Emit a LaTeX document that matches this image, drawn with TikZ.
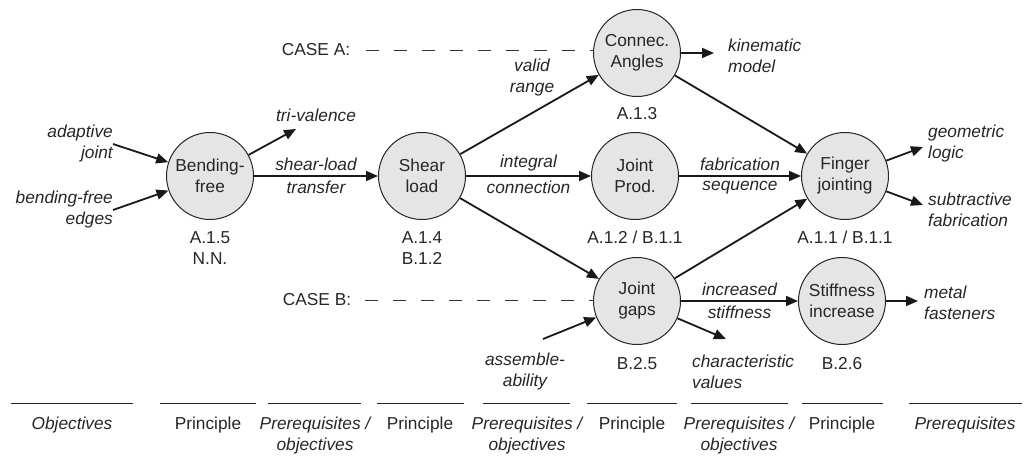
\documentclass[tikz,border=0pt]{standalone}
\usepackage{fontspec}
\setmainfont{Liberation Sans}
\usetikzlibrary{arrows.meta,positioning}

\newcommand{\labelsize}{\fontsize{17.3}{21}\selectfont}

\tikzset{
  principle/.style={circle, draw=black!85, line width=1pt, fill=black!10,
    minimum size=87pt, inner sep=0pt, align=center},
  note/.style={font=\labelsize\itshape, align=center, inner sep=0pt},
  tag/.style={align=center, inner sep=0pt},
  flow/.style={-{Triangle[length=12pt,width=10pt]}, line width=1.8pt, draw=black!90},
  caseline/.style={dash pattern=on 13pt off 15pt, line width=0.8pt, draw=black!80},
  rule/.style={line width=0.9pt, draw=black!85}
}

\begin{document}
\begin{tikzpicture}[x=1pt, y=-1pt, font=\labelsize, text=black!85]
    \useasboundingbox (0,0) rectangle (1027,455);

    % principles
    \node[principle] (bend) at (210,176) {Bending-\\free};
    \node[principle] (shear) at (422,176) {Shear\\load};
    \node[principle] (connec) at (637,53) {Connec.\\Angles};
    \node[principle] (prod) at (635,176) {Joint\\Prod.};
    \node[principle] (gaps) at (637,301) {Joint\\gaps};
    \node[principle] (finger) at (845,176) {Finger\\jointing};
    \node[principle] (stiff) at (842,301) {Stiffness\\increase};

    % section numbers
    \node[tag, below=11pt of bend] (tbend) {A.1.5\\N.N.};
    \node[tag, below=11pt of shear] (tshear) {A.1.4\\B.1.2};
    \node[tag, below=10pt of connec] (tconnec) {A.1.3};
    \node[tag, below=11pt of prod] (tprod) {A.1.2 / B.1.1};
    \node[tag, below=11pt of finger] (tfinger) {A.1.1 / B.1.1};
    \node[tag, below=12pt of gaps] (tgaps) {B.2.5};
    \node[tag, below=12pt of stiff] (tstiff) {B.2.6};

    % cases
    \node[tag] (casea) at (316,50) {CASE A:};
    \node[tag] (caseb) at (317,300) {CASE B:};
    \draw[caseline] (casea.east) ++(16,0) -- (connec.west |- casea.east);
    \draw[caseline] (caseb.east) ++(14,0) -- (gaps.west |- caseb.east);

    % objectives and prerequisites
    \node[note, align=right, anchor=east] (adapt) at (113,144) {adaptive\\joint};
    \node[note, align=right, anchor=east] (edges) at (113,210) {bending-free\\edges};
    \node[note] (tri) at (316,115) {tri-valence};
    \node[note, align=left, anchor=west] (kin) at (728,56) {kinematic\\model};
    \node[note, align=left, anchor=west] (geo) at (928,144) {geometric\\logic};
    \node[note, align=left, anchor=west] (sub) at (928,210) {subtractive\\fabrication};
    \node[note, align=left, anchor=west] (metal) at (924,303) {metal\\fasteners};
    \node[note, align=left, anchor=west] (charv) at (692,372) {characteristic\\values};
    \node[note] (assem) at (525,372) {assemble-\\ability};
    \node[note] (valid) at (532,78) {valid\\range};

    \coordinate (trie) at (296,129);
    \coordinate (kine) at (714,53);
    \coordinate (geoe) at (923,147);
    \coordinate (sube) at (923,205);
    \coordinate (metale) at (918,301);
    \coordinate (charve) at (726,339);
    \coordinate (assems) at (543,339);

    % connectors
    \draw[flow] (adapt.east) -- (bend);
    \draw[flow] (edges.east) -- (bend);
    \draw[flow] (bend) -- (trie);
    \draw[flow] (bend) -- node[note, above=4pt] (lshear) {shear-load}
        node[note, below=4pt] (lshear2) {transfer} (shear);
    \draw[flow] (shear) -- (connec);
    \draw[flow] (shear) -- node[note, above=4pt] (lint) {integral}
        node[note, below=4pt] (lint2) {connection} (prod);
    \draw[flow] (shear) -- (gaps);
    \draw[flow] (connec) -- (kine);
    \draw[flow] (connec) -- (finger);
    \draw[flow] (prod) -- node[note, above=4pt] (lfab) {fabrication}
        node[note, below=4pt] (lfab2) {sequence} (finger);
    \draw[flow] (gaps) -- (finger);
    \draw[flow] (finger) -- (geoe);
    \draw[flow] (finger) -- (sube);
    \draw[flow] (assems) -- (gaps);
    \draw[flow] (gaps) -- (charve);
    \draw[flow] (gaps) -- node[note, above=4pt] (lstiff) {increased}
        node[note, below=4pt] (lstiff2) {stiffness} (stiff);
    \draw[flow] (stiff) -- (metale);

    % column headings
    \draw[rule] (11,403) -- (133,403);
    \draw[rule] (160,403) -- (256,403);
    \draw[rule] (268,403) -- (361,403);
    \draw[rule] (377,403) -- (464,403);
    \draw[rule] (483,403) -- (570,403);
    \draw[rule] (587,403) -- (677,403);
    \draw[rule] (691,403) -- (788,403);
    \draw[rule] (802,403) -- (883,403);
    \draw[rule] (909,403) -- (1022,403);
    \node[note, anchor=north] (col1) at (72,417) {Objectives};
    \node[tag, anchor=north] (col2) at (208,417) {Principle};
    \node[note, anchor=north] (col3) at (315,417) {Prerequisites /\\objectives};
    \node[tag, anchor=north] (col4) at (420,417) {Principle};
    \node[note, anchor=north] (col5) at (527,417) {Prerequisites /\\objectives};
    \node[tag, anchor=north] (col6) at (632,417) {Principle};
    \node[note, anchor=north] (col7) at (739,417) {Prerequisites /\\objectives};
    \node[tag, anchor=north] (col8) at (842,417) {Principle};
    \node[note, anchor=north] (col9) at (965,417) {Prerequisites};
\end{tikzpicture}
\end{document}
